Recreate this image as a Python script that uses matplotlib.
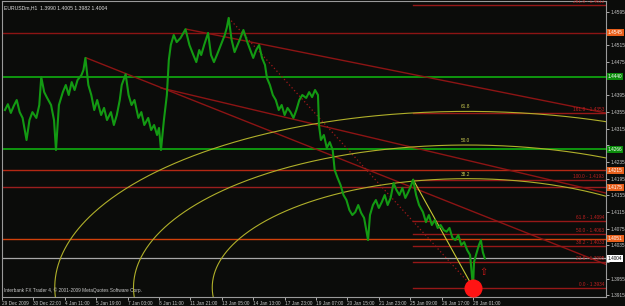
import numpy as np
import matplotlib
matplotlib.use("Agg")
import matplotlib.pyplot as plt
import matplotlib.transforms as mtransforms

plt.rcParams["font.family"] = ["Liberation Sans Narrow", "Liberation Sans", "DejaVu Sans"]

# hourly bars (index since 29 Dec 2009 00:00 in chart bars) and close prices
bars = [3, 6, 9, 12, 15, 18, 21, 25, 28, 31, 35, 38, 40, 43, 46, 50, 53, 55, 58, 62,
        65, 68, 71, 74, 77, 81, 83, 85, 88, 91, 94, 97, 101, 104, 107, 111, 114, 117, 120, 122,
        126, 129, 132, 135, 139, 142, 145, 149, 152, 155, 158, 160, 162, 165, 168, 170, 172, 175, 178, 182,
        187, 191, 195, 198, 201, 203, 206, 210, 213, 216, 219, 223, 227, 229, 231, 234, 237, 240, 243, 246,
        250, 253, 256, 259, 262, 265, 268, 270, 273, 276, 279, 282, 285, 288, 291, 294, 297, 300, 303, 306,
        310, 313, 316, 319, 322, 323, 325, 328, 331, 334, 337, 339, 342, 345, 348, 351, 354, 357, 360, 363,
        366, 369, 373, 375, 378, 381, 384, 387, 390, 393, 396, 399, 402, 405, 408, 411, 414, 417, 419, 422,
        425, 429, 432, 435, 438, 441, 444, 447, 450, 453, 456, 459, 462, 465, 468, 471, 474, 477, 480, 481,
        483, 486, 488, 490, 492]
close = [1.4360, 1.4374, 1.4353, 1.4370, 1.4384, 1.4355, 1.4341, 1.4288, 1.4336, 1.4355,
         1.4341, 1.4372, 1.4439, 1.4403, 1.4389, 1.4372, 1.4336, 1.4264, 1.4372, 1.4403,
         1.4420, 1.4396, 1.4427, 1.4408, 1.4432, 1.4444, 1.4456, 1.4485, 1.4420, 1.4396,
         1.4360, 1.4384, 1.4348, 1.4365, 1.4336, 1.4355, 1.4324, 1.4348, 1.4384, 1.4420,
         1.4446, 1.4396, 1.4372, 1.4384, 1.4341, 1.4355, 1.4324, 1.4341, 1.4312, 1.4324,
         1.4300, 1.4317, 1.4264, 1.4336, 1.4396, 1.4480, 1.4516, 1.4540, 1.4523, 1.4533,
         1.4554, 1.4516, 1.4492, 1.4475, 1.4504, 1.4492, 1.4516, 1.4545, 1.4492, 1.4475,
         1.4492, 1.4516, 1.4540, 1.4557, 1.4581, 1.4528, 1.4499, 1.4516, 1.4533, 1.4552,
         1.4523, 1.4504, 1.4485, 1.4504, 1.4516, 1.4485, 1.4468, 1.4437, 1.4420, 1.4396,
         1.4384, 1.4360, 1.4372, 1.4348, 1.4365, 1.4355, 1.4341, 1.4360, 1.4384, 1.4396,
         1.4389, 1.4403, 1.4391, 1.4408, 1.4396, 1.4324, 1.4288, 1.4300, 1.4269, 1.4283,
         1.4264, 1.4216, 1.4197, 1.4180, 1.4156, 1.4144, 1.4120, 1.4108, 1.4115, 1.4132,
         1.4113, 1.4101, 1.4048, 1.4108, 1.4132, 1.4144, 1.4125, 1.4139, 1.4156, 1.4132,
         1.4149, 1.4185, 1.4168, 1.4156, 1.4173, 1.4149, 1.4163, 1.4180, 1.4193, 1.4156,
         1.4132, 1.4115, 1.4091, 1.4108, 1.4084, 1.4096, 1.4077, 1.4084, 1.4072, 1.4068,
         1.4077, 1.4053, 1.4048, 1.4060, 1.4036, 1.4043, 1.4024, 1.4012, 1.3934, 1.3995,
         1.4012, 1.4036, 1.4048, 1.4019, 1.4004]

time_ticks = [0, 32, 64, 96, 128, 160, 192, 224, 256, 288, 320, 352, 384, 416, 448, 480]
time_labels = ["29 Dec 2009", "30 Dec 22:00", "4 Jan 11:00", "5 Jan 19:00", "7 Jan 03:00",
               "8 Jan 11:00", "11 Jan 21:00", "13 Jan 05:00", "14 Jan 13:00", "17 Jan 23:00",
               "19 Jan 07:00", "20 Jan 15:00", "21 Jan 23:00", "25 Jan 09:00", "26 Jan 17:00",
               "28 Jan 01:00"]
price_ticks = [1.3915, 1.3955, 1.3995, 1.4035, 1.4075, 1.4115, 1.4155, 1.4195, 1.4235,
               1.4275, 1.4315, 1.4355, 1.4395, 1.4435, 1.4475, 1.4515, 1.4555, 1.4595]

# horizontal support / resistance lines
hline_prices = [1.4545, 1.4440, 1.4266, 1.4215, 1.4175, 1.4051]
hline_colors = ["#8c1414", "#0f960f", "#0f960f", "#b42814", "#9a1e1e", "#d2400a"]
hline_box = ["#e8601c", "#0a8c0a", "#0a8c0a", "#e8601c", "#e8601c", "#e8601c"]
bid_price = 1.4004

# trend lines: (bar1, price1, bar2, price2), extended to the right edge
trend_lines = [(188, 1.4554, 615, 1.4353),
               (86, 1.4485, 615, 1.3990),
               (162, 1.4413, 615, 1.4161)]

# fibonacci retracement / arcs
fib_levels = [0.0, 23.6, 38.2, 50.0, 61.8, 100.0, 161.8, 261.8]
fib_low, fib_high = 1.3934, 1.4193
fib_low_bar, fib_high_bar = 480, 419
peak_bar, peak_price = 231, 1.4581
arc_levels = [38.2, 50.0, 61.8]
arc_width_bars, arc_height_price = 680, 0.0684

header = "EURUSDm,H1  1.3990 1.4005 1.3982 1.4004"
footer = "Interbank FX Trader 4, \u00a9 2001-2009 MetaQuotes Software Corp."

W, H = 625, 306
fig = plt.figure(figsize=(W / 100, H / 100), dpi=100)
fig.patch.set_facecolor("#0b0c0a")
ax = fig.add_axes([2 / W, 1 - 297 / H, 604 / W, 295.7 / H])
ax.set_facecolor("#0b0c0a")
ax.set_xlim(1.5, 615.5)
ax.set_ylim(1.39113, 1.46209)

for s in ax.spines.values():
    s.set_color("#9a9a9a")
    s.set_linewidth(0.8)

small = 3.4
box_prices = hline_prices + [bid_price]
ax.yaxis.tick_right()
ax.set_yticks(price_ticks)
# labels hidden behind the coloured price boxes are left blank, as on the terminal
ax.set_yticklabels(["" if min(abs(p - b) for b in box_prices) < 0.0011 else f"{p:.4f}"
                    for p in price_ticks])
ax.tick_params(axis="y", colors="#c8c8c8", labelsize=small, length=2, width=0.6, pad=1.2)
ax.set_xticks(time_ticks)
ax.set_xticklabels(time_labels, ha="left")
ax.tick_params(axis="x", colors="#c8c8c8", labelsize=small, length=2, width=0.6, pad=0.6)

# horizontal lines
for p, c in zip(hline_prices, hline_colors):
    ax.axhline(p, color=c, lw=1.4 if c == "#0f960f" else 1.0, zorder=2)
ax.axhline(bid_price, color="#a8a8a8", lw=0.9, zorder=2)

# trend lines
for b1, p1, b2, p2 in trend_lines:
    ax.plot([b1, b2], [p1, p2], color="#8c1414", lw=1.0, zorder=2)

# dotted line from the top to the low
ax.plot([peak_bar, fib_low_bar], [peak_price, fib_low], color="#a01818", lw=0.9,
        linestyle=(0, (1, 2)), zorder=2)

# fibonacci arcs centred on the low
t = np.linspace(0, 2 * np.pi, 800)
for lv in arc_levels:
    r = lv / 100
    ax.plot(fib_low_bar - 6 + arc_width_bars * r * np.cos(t),
            fib_low + arc_height_price * r * np.sin(t),
            color="#b0b02a", lw=0.8, zorder=3)
    ax.text(fib_low_bar - 8, fib_low + arc_height_price * r + 0.0005, f"{lv:.1f}",
            color="#c8c850", fontsize=small, ha="center", va="bottom", zorder=5)

# fibonacci retracement levels
rng = fib_high - fib_low
for lv in fib_levels:
    p = fib_low + rng * lv / 100
    ax.plot([fib_high_bar, 615.5], [p, p], color="#961818", lw=1.0, zorder=2)
    ax.text(613.5, p + 0.0002, f"{lv:.1f} - {p:.4f}", color="#c02020", fontsize=small,
            ha="right", va="bottom", zorder=5)
ax.plot([fib_high_bar, fib_low_bar], [fib_high, fib_low], color="#c8c832", lw=0.8, zorder=3)

# price
ax.plot(bars, close, color="#139a13", lw=1.5, zorder=4)

# marker for the low and up arrow
ax.plot([fib_low_bar], [fib_low], marker="o", markersize=13, color="#ff1414",
        markeredgewidth=0, zorder=6)
ax.text(bars[-1] - 1, 1.3972, "\u21e7", color="#d01818", fontsize=7, ha="center",
        va="center", family="DejaVu Sans", zorder=6)

# price boxes on the right scale
trans = mtransforms.blended_transform_factory(ax.transAxes, ax.transData)
for p, c in zip(hline_prices, hline_box):
    ax.text(1.003, p, f"{p:.4f}", transform=trans, fontsize=small, color="white",
            ha="left", va="center", clip_on=False, zorder=7,
            bbox=dict(boxstyle="square,pad=0.2", fc=c, ec="none"))
ax.text(1.003, bid_price, f"{bid_price:.4f}", transform=trans, fontsize=small, color="black",
        ha="left", va="center", clip_on=False, zorder=7,
        bbox=dict(boxstyle="square,pad=0.2", fc="white", ec="none"))

ax.text(0.004, 0.985, header, transform=ax.transAxes, color="#dcdcdc", fontsize=small + 0.3,
        ha="left", va="top")
ax.text(0.003, 0.012, footer, transform=ax.transAxes, color="#c8c8c8", fontsize=small,
        ha="left", va="bottom")

fig.savefig("out.png", dpi=100, facecolor=fig.get_facecolor())
